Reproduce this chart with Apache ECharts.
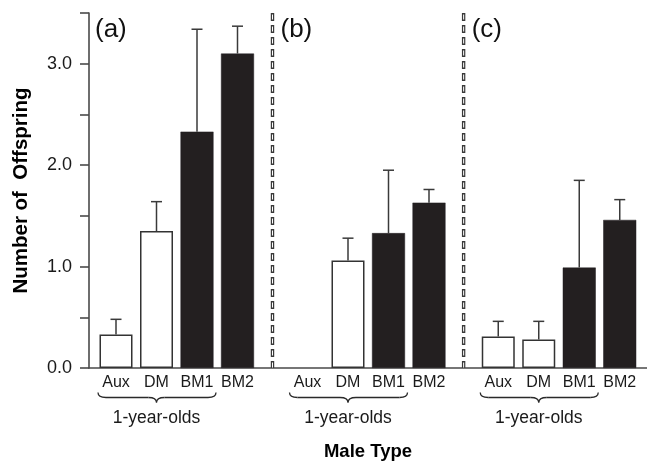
<!DOCTYPE html>
<html><head><meta charset="utf-8">
<script src="https://cdn.jsdelivr.net/npm/echarts@6/dist/echarts.min.js"></script>
<style>html,body{margin:0;padding:0;background:#fff}#c{width:647px;height:463px}</style>
</head><body><div id="c"></div>
<script>
// ---- data ----
const categories = ['Aux', 'DM', 'BM1', 'BM2'];
const panelLabels = ['(a)', '(b)', '(c)'];
const groupLabel = '1-year-olds';
const yAxisTitle = 'Number of  Offspring';
const xAxisTitle = 'Male Type';
const meanA = [0.33, 1.35, 2.33, 3.10];
const upperA = [0.48, 1.64, 3.34, 3.37];
const meanB = [null, 1.06, 1.33, 1.63];
const upperB = [null, 1.28, 1.95, 1.76];
const meanC = [0.31, 0.28, 0.99, 1.46];
const upperC = [0.46, 0.46, 1.85, 1.66];
const filledCategories = ['BM1', 'BM2'];
const yMin = 0, yMax = 3.5, yStep = 0.5;

// ---- layout ----
const W = 647, H = 463;
const AX_LEFT = 89, TOP = 13, BASE = 368;
const SLOT = 40.5;
const panelLefts = [95.75, 287.25, 478];
const panelW = SLOT * categories.length;
const INK = '#231f20', AXC = '#4a4a4a';
const FONT = '"Liberation Sans", Arial, Helvetica, sans-serif';

const means = [meanA, meanB, meanC];
const uppers = [upperA, upperB, upperC];

const grids = [{ left: AX_LEFT, right: 0, top: TOP, bottom: H - BASE, outerBoundsMode: 'none', containLabel: false }];
const xAxes = [{
  gridIndex: 0, type: 'value', min: 0, max: 1,
  axisLine: { show: true, lineStyle: { color: AXC, width: 1.6 } },
  axisTick: { show: false }, axisLabel: { show: false }, splitLine: { show: false },
  name: xAxisTitle, nameLocation: 'middle', nameGap: 74,
  nameTextStyle: { fontFamily: FONT, fontWeight: 'bold', fontSize: 18.5, color: '#000' }
}];
const yAxes = [{
  gridIndex: 0, type: 'value', min: yMin, max: yMax, interval: yStep,
  axisLine: { show: true, lineStyle: { color: AXC, width: 1.6 } },
  axisTick: { show: true, inside: false, length: 9, lineStyle: { color: AXC, width: 1.6 } },
  axisLabel: { margin: 17, fontFamily: FONT, fontSize: 18, color: '#1a1a1a',
    formatter: v => (Math.abs(v - Math.round(v)) < 1e-9 ? v.toFixed(1) : '') },
  splitLine: { show: false },
  name: yAxisTitle, nameLocation: 'middle', nameRotate: 90, nameGap: 57,
  nameTextStyle: { fontFamily: FONT, fontWeight: 'bold', fontSize: 20.5, color: '#000' }
}];
const series = [];

function errRender(params, api) {
  const lo = api.value(1), hi = api.value(2);
  if (isNaN(lo) || isNaN(hi)) return;
  const p0 = api.coord([api.value(0), lo]);
  const p1 = api.coord([api.value(0), hi]);
  const cap = 5.5;
  const st = { stroke: '#3a3a3a', lineWidth: 1.5 };
  return { type: 'group', children: [
    { type: 'line', shape: { x1: p0[0], y1: p0[1], x2: p1[0], y2: p1[1] }, style: st },
    { type: 'line', shape: { x1: p1[0] - cap, y1: p1[1], x2: p1[0] + cap, y2: p1[1] }, style: st }
  ] };
}

function braceRender(params, api) {
  const a = api.coord([api.value(0), 0]);
  const m = api.coord([api.value(1), 0]);
  const b = api.coord([api.value(2), 0]);
  const L = a[0] - 18, R = b[0] + 19, M = m[0];
  const y0 = a[1] + 24.5, dy = 5, dx = 8;
  const st = { stroke: '#2a2a2a', lineWidth: 1.3, fill: null };
  return { type: 'group', children: [
    { type: 'bezierCurve', shape: { x1: L, y1: y0, x2: L + dx, y2: y0 + dy, cpx1: L, cpy1: y0 + dy }, style: st },
    { type: 'line', shape: { x1: L + dx, y1: y0 + dy, x2: M - dx, y2: y0 + dy }, style: st },
    { type: 'bezierCurve', shape: { x1: M - dx, y1: y0 + dy, x2: M, y2: y0 + 2 * dy, cpx1: M, cpy1: y0 + dy }, style: st },
    { type: 'bezierCurve', shape: { x1: M + dx, y1: y0 + dy, x2: M, y2: y0 + 2 * dy, cpx1: M, cpy1: y0 + dy }, style: st },
    { type: 'line', shape: { x1: M + dx, y1: y0 + dy, x2: R - dx, y2: y0 + dy }, style: st },
    { type: 'bezierCurve', shape: { x1: R, y1: y0, x2: R - dx, y2: y0 + dy, cpx1: R, cpy1: y0 + dy }, style: st },
    { type: 'text', x: M, y: a[1] + 50, style: { text: groupLabel, fontFamily: FONT, fontSize: 17.5, fill: '#1a1a1a', align: 'center', verticalAlign: 'middle' } }
  ] };
}

panelLefts.forEach((left, i) => {
  const gi = i + 1;
  grids.push({ left: left, width: panelW, top: TOP, bottom: H - BASE, outerBoundsMode: 'none', containLabel: false });
  xAxes.push({ gridIndex: gi, type: 'category', data: categories,
    axisLine: { show: false }, axisTick: { show: false }, splitLine: { show: false },
    axisLabel: { margin: 7, fontFamily: FONT, fontSize: 16, color: '#1a1a1a', interval: 0 } });
  yAxes.push({ gridIndex: gi, type: 'value', min: yMin, max: yMax, show: false });
  series.push({
    type: 'bar', xAxisIndex: gi, yAxisIndex: gi, barWidth: 33,
    data: means[i].map((v, k) => ({
      value: v,
      itemStyle: filledCategories.includes(categories[k])
        ? { color: INK, borderColor: INK, borderWidth: 0.5 }
        : { color: '#fff', borderColor: '#333', borderWidth: 1.5 }
    })),
    animation: false, silent: true
  });
  series.push({
    type: 'custom', xAxisIndex: gi, yAxisIndex: gi, renderItem: errRender,
    data: means[i].map((v, k) => [k, v == null ? NaN : v, uppers[i][k] == null ? NaN : uppers[i][k]]),
    z: 3, animation: false, silent: true
  });
  series.push({
    type: 'custom', xAxisIndex: gi, yAxisIndex: gi, renderItem: braceRender,
    data: [[0, 1, 2]], animation: false, silent: true, clip: false
  });
});

// separators and panel labels
const graphics = [];
const sepXs = [];
for (let i = 0; i < panelLefts.length - 1; i++) {
  sepXs.push((panelLefts[i] + panelW + panelLefts[i + 1]) / 2);
}
sepXs.forEach(x => {
  graphics.push({ type: 'line', shape: { x1: x, y1: TOP, x2: x, y2: BASE }, style: { stroke: '#3a3a3a', lineWidth: 3.4, lineDash: [8, 4] }, z: 10 });
  graphics.push({ type: 'line', shape: { x1: x, y1: TOP + 1.5, x2: x, y2: BASE }, style: { stroke: '#fff', lineWidth: 1, lineDash: [5, 7] }, z: 11 });
});
const labelXs = [AX_LEFT + 6].concat(sepXs.map(x => x + 8));
panelLabels.forEach((t, i) => {
  graphics.push({ type: 'text', x: labelXs[i], y: 30, style: { text: t, fontFamily: FONT, fontSize: 26, fill: '#111', align: 'left', verticalAlign: 'middle' }, z: 12 });
});

const chart = echarts.init(document.getElementById('c'), null, { renderer: 'canvas' });
chart.setOption({
  animation: false,
  backgroundColor: '#fff',
  grid: grids, xAxis: xAxes, yAxis: yAxes, series: series, graphic: graphics
});
</script></body></html>
